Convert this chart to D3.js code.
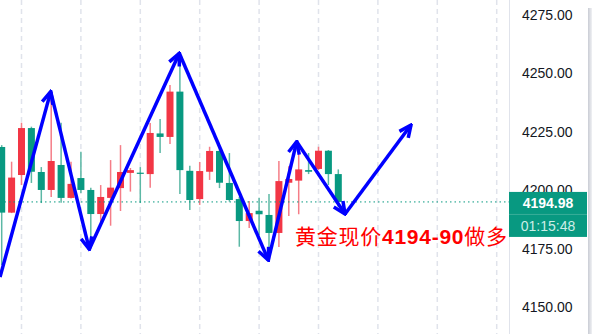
<!DOCTYPE html>
<html>
<head>
<meta charset="utf-8">
<script src="https://cdn.jsdelivr.net/npm/d3@7"></script>
<style>
  html, body { margin: 0; padding: 0; background: #fff; }
  svg { display: block; }
</style>
</head>
<body>
<div id="chart"></div>
<script>
// candle values (red = up, green = down)
var opens  = [4218.5,4190.4,4206.5,4226.6,4207.8,4200.1,4210.8,4196.7,4205.2,4200.1,4189.8,4196.7,4200.9,4207.4,4207.5,4206.9,4224.3,4222.8,4242.2,4208.3,4196.2,4207.9,4216.8,4203.1,4196.2,4186.8,4191.2,4189.4,4181.7,4203.2,4204.1,4208.6,4209.1,4216.9,4206.9];
var highs  = [4219.3,4212.2,4228.9,4227.2,4209.9,4238.6,4228.9,4212.2,4216.5,4201.1,4202.2,4212.9,4219.3,4209.5,4209.9,4228.8,4230.5,4245.0,4257.9,4210.5,4212.1,4218.6,4218.1,4215.9,4197.2,4195.4,4196.8,4198.4,4212.5,4210.2,4219.3,4215.9,4218.6,4217.2,4208.9];
var lows   = [4168.0,4190.2,4202.2,4203.1,4194.5,4197.1,4194.6,4196.5,4198.8,4175.8,4186.0,4184.8,4191.1,4199.4,4194.5,4201.1,4215.9,4219.8,4198.4,4191.5,4193.7,4204.4,4200.9,4195.1,4175.8,4183.8,4180.8,4171.0,4175.7,4189.0,4189.7,4206.9,4208.6,4202.2,4192.9];
var closes = [4190.4,4205.4,4226.6,4207.9,4200.1,4212.5,4196.7,4202.7,4200.1,4189.8,4197.1,4201.1,4207.8,4208.6,4207.1,4224.5,4222.8,4242.2,4208.6,4195.8,4208.2,4216.8,4203.2,4195.8,4186.8,4190.2,4189.7,4181.7,4203.9,4204.8,4208.9,4207.9,4216.9,4206.9,4194.98];

var priceTicks = [4150, 4175, 4200, 4225, 4250, 4275];
var lastPrice = "4194.98";
var countdown = "01:15:48";

// hand drawn zigzag: [bar index, price]
var arrowPts = [[-0.17,4162.8],[4.95,4242.2],[8.85,4174.7],[17.94,4258.6],[26.93,4170.1],[29.8,4220.8],[34.68,4189.8],[41.34,4227.9]];
var noteParts = ["黄金现价", "4194-90", "做多"];

var W = 592, H = 334, plotRight = 509;
var upColor = "#f23645", downColor = "#089981";

var svg = d3.select("#chart").append("svg")
    .attr("width", W)
    .attr("height", H);

var x = d3.scaleLinear().domain([0, 50]).range([1.7, 496.7]);
var y = d3.scaleLinear().domain([4150, 4275]).range([307, 15]);

var bars = opens.map(function(o, i) {
  return {i: i, open: o, high: highs[i], low: lows[i], close: closes[i]};
});

// vertical dashed grid
svg.append("g").selectAll("line")
  .data(d3.range(2, 51, 6))
  .join("line")
  .attr("x1", d => x(d)).attr("x2", d => x(d))
  .attr("y1", 0).attr("y2", H)
  .attr("stroke", "#e0e3eb")
  .attr("stroke-width", 1.5)
  .attr("stroke-dasharray", "5,4");

// wicks
svg.append("g").selectAll("line")
  .data(bars)
  .join("line")
  .attr("x1", d => x(d.i)).attr("x2", d => x(d.i))
  .attr("y1", d => y(d.high)).attr("y2", d => y(d.low))
  .attr("stroke", d => d.close >= d.open ? "#f57d87" : "#5cb8a5")
  .attr("stroke-width", 1.5);

// bodies
var bw = 7;
svg.append("g").selectAll("rect")
  .data(bars)
  .join("rect")
  .attr("x", d => x(d.i) - bw / 2)
  .attr("width", bw)
  .attr("y", d => y(Math.max(d.open, d.close)))
  .attr("height", d => Math.max(1.2, Math.abs(y(d.open) - y(d.close))))
  .attr("fill", d => d.close >= d.open ? upColor : downColor);

// last price dotted line
var py = y(+lastPrice);
svg.append("line")
  .attr("x1", 0).attr("x2", plotRight)
  .attr("y1", py).attr("y2", py)
  .attr("stroke", downColor)
  .attr("stroke-width", 1)
  .attr("stroke-dasharray", "1.5,3");

// arrows
svg.append("defs").append("marker")
  .attr("id", "head")
  .attr("markerUnits", "userSpaceOnUse")
  .attr("viewBox", "-14 -8 16 16")
  .attr("refX", 0).attr("refY", 0)
  .attr("markerWidth", 16).attr("markerHeight", 16)
  .attr("orient", "auto")
  .append("path")
  .attr("d", "M-12,-5.5L0,0L-12,5.5")
  .attr("fill", "none")
  .attr("stroke", "#0000ff")
  .attr("stroke-width", 3.5)
  .attr("stroke-linejoin", "miter");

svg.append("g").selectAll("line")
  .data(d3.pairs(arrowPts))
  .join("line")
  .attr("x1", d => x(d[0][0])).attr("y1", d => y(d[0][1]))
  .attr("x2", d => x(d[1][0])).attr("y2", d => y(d[1][1]))
  .attr("stroke", "#0000ff")
  .attr("stroke-width", 3.5)
  .attr("marker-end", "url(#head)");

// red note
var note = svg.append("text")
  .attr("x", 295)
  .attr("y", 244)
  .attr("fill", "#ff0000")
  .attr("textLength", 212)
  .attr("lengthAdjust", "spacing")
  .style("font-size", "21px");
note.append("tspan").text(noteParts[0])
  .style("font-family", "'Noto Sans CJK SC', sans-serif");
note.append("tspan").text(noteParts[1])
  .style("font-family", "'Liberation Sans', Arial, sans-serif")
  .style("font-weight", "bold");
note.append("tspan").text(noteParts[2])
  .style("font-family", "'Noto Sans CJK SC', sans-serif");

// price axis panel
svg.append("rect")
  .attr("x", plotRight).attr("y", 0)
  .attr("width", W - plotRight).attr("height", H)
  .attr("fill", "#fff");
svg.append("line")
  .attr("x1", plotRight + 0.5).attr("x2", plotRight + 0.5)
  .attr("y1", 0).attr("y2", H)
  .attr("stroke", "#e0e3eb");

var axis = svg.append("g")
  .attr("transform", "translate(" + plotRight + ",0)")
  .call(d3.axisRight(y).tickValues(priceTicks).tickFormat(d3.format(".2f")).tickSize(0).tickPadding(13));
axis.select(".domain").remove();
axis.selectAll("text")
  .attr("fill", "#131722")
  .style("font-family", "'Liberation Sans', Arial, sans-serif")
  .style("font-size", "14px");

// right edge shadow
var grad = svg.select("defs").append("linearGradient").attr("id", "edge");
grad.append("stop").attr("offset", "0%").attr("stop-color", "#c9ccd4");
grad.append("stop").attr("offset", "100%").attr("stop-color", "#f0f1f4");
svg.append("rect")
  .attr("x", 588).attr("y", 8)
  .attr("width", 4).attr("height", H - 8)
  .attr("fill", "url(#edge)");

// last price label
var box = svg.append("g").attr("transform", "translate(" + plotRight + "," + (py - 10) + ")");
box.append("rect").attr("width", 78).attr("height", 45).attr("fill", downColor);
box.append("line").attr("x1", 0).attr("x2", 78).attr("y1", 22.5).attr("y2", 22.5)
  .attr("stroke", "#3aae99").attr("stroke-width", 1);
box.append("text").text(lastPrice)
  .attr("x", 39).attr("y", 16)
  .attr("text-anchor", "middle")
  .attr("fill", "#fff")
  .style("font-family", "'Liberation Sans', Arial, sans-serif")
  .style("font-size", "14px")
  .style("font-weight", "bold");
box.append("text").text(countdown)
  .attr("x", 39).attr("y", 39)
  .attr("text-anchor", "middle")
  .attr("fill", "#cdeee7")
  .style("font-family", "'Liberation Sans', Arial, sans-serif")
  .style("font-size", "14px");
</script>
</body>
</html>
